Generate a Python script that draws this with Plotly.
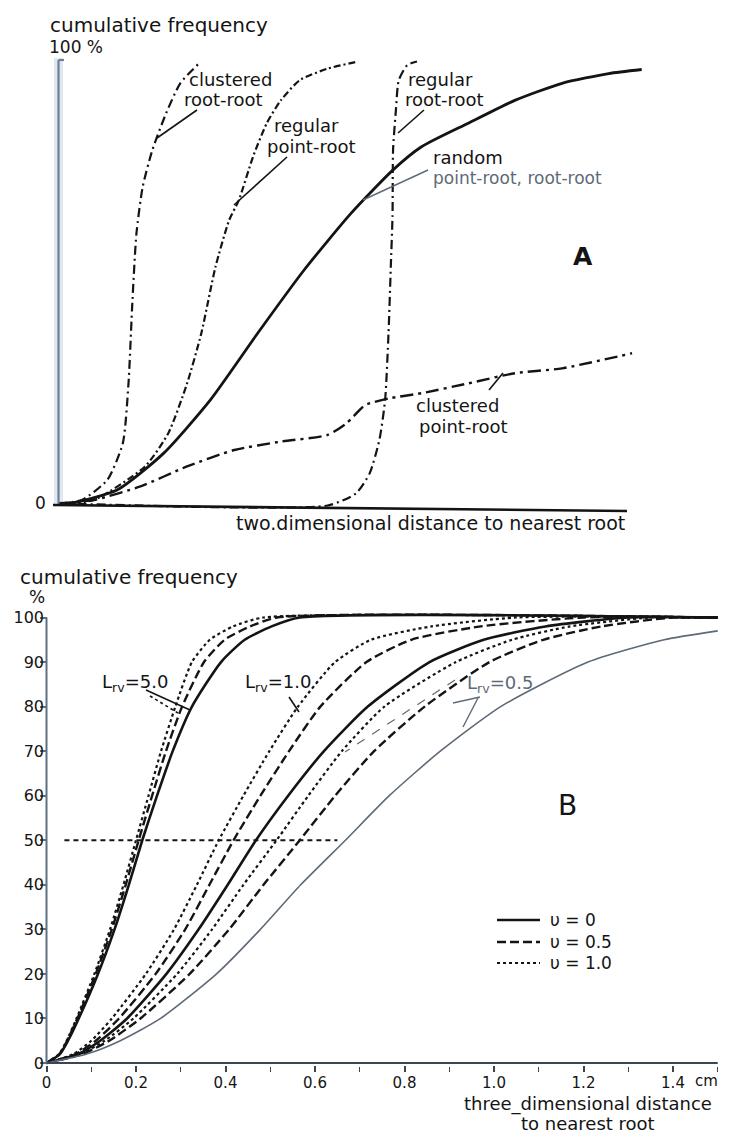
import plotly.graph_objects as go

W, H = 733, 1135
FONT = "DejaVu Sans"
INK = "#141414"
GREY = "#5d6a78"

# ---------------- Panel A data (relative distance 0..1, cumulative %) ----------------
a_random_x = [0.0, 0.02, 0.103, 0.185, 0.267, 0.35, 0.432, 0.514, 0.588, 0.638, 0.72, 0.803, 0.885, 0.967, 1.025]
a_random_y = [0, 0, 3, 11.3, 23.3, 38.3, 52.6, 65.3, 75.1, 80.3, 85.6, 90.8, 94.6, 96.8, 97.7]

a_clu_rr_x = [0.0, 0.041, 0.086, 0.113, 0.123, 0.130, 0.137, 0.148, 0.165, 0.189, 0.214, 0.247]
a_clu_rr_y = [0, 0.75, 5.3, 13.5, 27, 45.8, 60.8, 71.3, 79.6, 87.8, 94.6, 99.1]

a_reg_pr_x = [0.0, 0.062, 0.152, 0.193, 0.226, 0.251, 0.276, 0.30, 0.317, 0.342, 0.366, 0.391, 0.424, 0.473, 0.527]
a_reg_pr_y = [0, 0.75, 8.3, 15.8, 27, 38.3, 53.3, 63.8, 68.3, 78.1, 85.6, 90.8, 95.3, 97.9, 99.5]

a_reg_rr_x = [0.0, 0.473, 0.523, 0.547, 0.564, 0.574, 0.58, 0.584, 0.587, 0.588, 0.593, 0.598, 0.613, 0.63]
a_reg_rr_y = [0, -0.5, 2.25, 6.8, 14.3, 23.3, 38.3, 53.3, 64.6, 79.6, 88.6, 95.3, 98.7, 99.5]

a_clu_pr_x = [0.0, 0.062, 0.144, 0.226, 0.309, 0.391, 0.473, 0.506, 0.539, 0.58, 0.638, 0.72, 0.802, 0.885, 1.008]
a_clu_pr_y = [0, 0.75, 3.8, 8.3, 12.0, 13.9, 15.4, 18.0, 22.1, 23.6, 24.8, 27.0, 29.3, 30.4, 33.8]

# ---------------- Panel B data (distance in cm, cumulative %) ----------------
b_y = [0, 2, 5, 10, 20, 30, 40, 50, 60, 70, 80, 90, 95, 98, 100, 100]
b_L50_s00 = [0, 0.030, 0.048, 0.072, 0.115, 0.152, 0.184, 0.214, 0.247, 0.282, 0.325, 0.390, 0.443, 0.503, 0.566, 1.5]
b_L50_s05 = [0, 0.029, 0.046, 0.069, 0.110, 0.146, 0.177, 0.206, 0.236, 0.267, 0.303, 0.352, 0.398, 0.455, 0.515, 1.5]
b_L50_s10 = [0, 0.028, 0.045, 0.067, 0.107, 0.142, 0.172, 0.200, 0.228, 0.256, 0.288, 0.325, 0.365, 0.417, 0.485, 1.5]
b_L10_s10 = [0, 0.060, 0.100, 0.146, 0.222, 0.285, 0.336, 0.385, 0.440, 0.498, 0.562, 0.645, 0.725, 0.860, 1.050, 1.5]
b_L10_s05 = [0, 0.065, 0.110, 0.162, 0.244, 0.310, 0.364, 0.418, 0.478, 0.542, 0.612, 0.715, 0.815, 0.970, 1.200, 1.5]
b_L10_s00 = [0, 0.070, 0.120, 0.180, 0.268, 0.340, 0.405, 0.468, 0.540, 0.620, 0.718, 0.856, 0.977, 1.115, 1.300, 1.5]
b_L05_s10 = [0, 0.075, 0.130, 0.194, 0.292, 0.370, 0.440, 0.514, 0.585, 0.660, 0.755, 0.915, 1.040, 1.170, 1.350, 1.5]
b_L05_s05 = [0, 0.080, 0.140, 0.210, 0.320, 0.408, 0.485, 0.566, 0.645, 0.732, 0.845, 0.990, 1.110, 1.240, 1.400, 1.5]
b_L05_s00_x = [0, 0.090, 0.165, 0.255, 0.380, 0.478, 0.568, 0.668, 0.766, 0.880, 1.015, 1.210, 1.380, 1.5]
b_L05_s00_y = [0, 2, 5, 10, 20, 30, 40, 50, 60, 70, 80, 90, 95, 97]

b_ref50_x = [0.04, 0.65]
b_ref50_y = [50, 50]

b_xticks = [0, 0.2, 0.4, 0.6, 0.8, 1.0, 1.2, 1.4]
b_xticktext = ["0", "0.2", "0.4", "0.6", "0.8", "1.0", "1.2", "1.4"]
b_xminor = [0.1, 0.3, 0.5, 0.7, 0.9, 1.1, 1.3, 1.5]
b_yticks = [0, 10, 20, 30, 40, 50, 60, 70, 80, 90, 100]

# ---------------- layout geometry (pixels) ----------------
A_X0, A_XS, A_Y0, A_YS = 58.5, 569.0, 503.3, 4.44
A_DOM_X = (50, 660)
A_DOM_Y = (518, 42)   # bottom, top
B_X0, B_XS, B_Y0, B_YS = 46.5, 447.5, 1063.0, 4.455
B_DOM_X = (40, 726)
B_DOM_Y = (1072, 605)


def px(x):
    return x / W


def py(y):
    return 1 - y / H


fig = go.Figure()

DASHDOT1 = "9px,4px,2px,4px"
DASHDOT2 = "7px,3px,2px,3px"
DASHDOT3 = "13px,5px,3px,5px"
SM = 0.6

# Panel A traces
fig.add_trace(go.Scatter(x=a_random_x, y=a_random_y, mode="lines", xaxis="x", yaxis="y",
                         line=dict(color=INK, width=2.8, shape="spline", smoothing=SM), showlegend=False))
fig.add_trace(go.Scatter(x=a_clu_rr_x, y=a_clu_rr_y, mode="lines", xaxis="x", yaxis="y",
                         line=dict(color=INK, width=2.2, dash=DASHDOT1, shape="spline", smoothing=SM), showlegend=False))
fig.add_trace(go.Scatter(x=a_reg_pr_x, y=a_reg_pr_y, mode="lines", xaxis="x", yaxis="y",
                         line=dict(color=INK, width=2.2, dash=DASHDOT2, shape="spline", smoothing=SM), showlegend=False))
fig.add_trace(go.Scatter(x=a_reg_rr_x, y=a_reg_rr_y, mode="lines", xaxis="x", yaxis="y",
                         line=dict(color=INK, width=2.2, dash=DASHDOT1, shape="spline", smoothing=SM), showlegend=False))
fig.add_trace(go.Scatter(x=a_clu_pr_x, y=a_clu_pr_y, mode="lines", xaxis="x", yaxis="y",
                         line=dict(color=INK, width=2.4, dash=DASHDOT3, shape="spline", smoothing=SM), showlegend=False))

# Panel B traces
DASHED = "9px,4px"
DOTTED = "3px,3px"
b_series = [
    (b_L50_s00, "solid", 2.6), (b_L50_s05, DASHED, 2.4), (b_L50_s10, DOTTED, 2.2),
    (b_L10_s00, "solid", 2.6), (b_L10_s05, DASHED, 2.4), (b_L10_s10, DOTTED, 2.2),
    (b_L05_s05, DASHED, 2.4), (b_L05_s10, DOTTED, 2.2),
]
for xs, dash, wd in b_series:
    fig.add_trace(go.Scatter(x=xs, y=b_y, mode="lines", xaxis="x2", yaxis="y2",
                             line=dict(color=INK, width=wd, dash=dash, shape="spline", smoothing=SM),
                             showlegend=False))
fig.add_trace(go.Scatter(x=b_L05_s00_x, y=b_L05_s00_y, mode="lines", xaxis="x2", yaxis="y2",
                         line=dict(color=GREY, width=1.6, shape="spline", smoothing=SM), showlegend=False))
fig.add_trace(go.Scatter(x=b_ref50_x, y=b_ref50_y, mode="lines", xaxis="x2", yaxis="y2",
                         line=dict(color=INK, width=1.8, dash="5px,4px"), showlegend=False))


def rng(dom, x0, xs, inv=False):
    a, b = dom
    if inv:
        return [(x0 - a) / xs, (x0 - b) / xs]
    return [(a - x0) / xs, (b - x0) / xs]


hidden = dict(showgrid=False, zeroline=False, showticklabels=False, showline=False, ticks="")

fig.update_layout(
    width=W, height=H,
    margin=dict(l=0, r=0, t=0, b=0),
    paper_bgcolor="white", plot_bgcolor="rgba(0,0,0,0)",
    font=dict(family=FONT, color=INK),
    xaxis=dict(domain=[px(A_DOM_X[0]), px(A_DOM_X[1])], range=rng(A_DOM_X, A_X0, A_XS),
               anchor="y", **hidden),
    yaxis=dict(domain=[py(A_DOM_Y[0]), py(A_DOM_Y[1])], range=rng(A_DOM_Y, A_Y0, A_YS, inv=True),
               anchor="x", **hidden),
    xaxis2=dict(domain=[px(B_DOM_X[0]), px(B_DOM_X[1])], range=rng(B_DOM_X, B_X0, B_XS),
                anchor="y2", showgrid=False, zeroline=False, showline=False,
                ticks="inside", ticklen=6, tickwidth=1.5, tickcolor="#3c4650",
                tickvals=b_xticks, ticktext=b_xticktext, ticklabelstandoff=0,
                tickfont=dict(size=15, family=FONT, color=INK),
                minor=dict(tickvals=b_xminor, ticks="inside", ticklen=5, tickwidth=1.2,
                           tickcolor="#3c4650", showgrid=False)),
    yaxis2=dict(domain=[py(B_DOM_Y[0]), py(B_DOM_Y[1])], range=rng(B_DOM_Y, B_Y0, B_YS, inv=True),
                anchor="x2", showgrid=False, zeroline=False, showline=False,
                ticks="inside", ticklen=7, tickwidth=1.5, tickcolor="#5f7080",
                tickvals=b_yticks, ticklabelstandoff=-5,
                tickfont=dict(size=16, family=FONT, color=INK)),
)

shapes = []


def seg(x0, y0, x1, y1, color=INK, width=1.6, dash="solid"):
    shapes.append(dict(type="line", xref="paper", yref="paper",
                       x0=px(x0), y0=py(y0), x1=px(x1), y1=py(y1),
                       line=dict(color=color, width=width, dash=dash)))


# Panel A axes (drawn)
shapes.append(dict(type="rect", xref="paper", yref="paper", x0=px(54), x1=px(63), y0=py(505), y1=py(58),
                   fillcolor="#dfe8f2", line=dict(width=0), layer="below"))
seg(58.5, 505, 58.5, 60, color="#6f8091", width=2.2)
seg(58.5, 60, 64, 60, color="#6f8091", width=2.2)
seg(53, 505, 627, 511, color=INK, width=2.6)

# Panel B axes (drawn in data coordinates)
shapes.append(dict(type="line", xref="x2", yref="y2", x0=0, y0=0, x1=1.5, y1=0,
                   line=dict(color="#3c4650", width=2)))
shapes.append(dict(type="line", xref="x2", yref="y2", x0=0, y0=0, x1=0, y1=100,
                   line=dict(color="#5f7080", width=2)))

# Panel A leader lines
seg(197, 110, 157, 138)
seg(287, 157, 234, 205)
seg(424, 110, 398, 133)
seg(428, 170, 363, 200, color=GREY, width=1.4)
seg(503, 373, 489, 390)

# Panel B leader lines
seg(146, 690, 190, 710)
seg(150, 696, 178, 713, dash="dot")
seg(289, 697, 299, 712)
seg(480, 697, 453, 703, color=GREY, width=1.4)
seg(478, 698, 463, 727, color=GREY, width=1.4)
seg(455, 680, 345, 752, color=GREY, width=1.2, dash="dash")

# Panel B legend lines
seg(497, 920, 540, 920, width=2.6)
seg(497, 942, 540, 942, width=2.4, dash=DASHED)
seg(497, 963, 540, 963, width=2.2, dash=DOTTED)

annotations = []


def ann(text, x, y, size=20, xanchor="left", color=INK, bold=False):
    annotations.append(dict(text=("<b>%s</b>" % text) if bold else text,
                            x=px(x), y=py(y), xref="paper", yref="paper",
                            xanchor=xanchor, yanchor="middle", showarrow=False,
                            font=dict(size=size, family=FONT, color=color)))


# Panel A text
ann("cumulative frequency", 48, 25)
ann("100 %", 47, 47, size=17)
ann("0", 40, 503, size=17, xanchor="center")
ann("clustered", 187, 79, size=18)
ann("root-root", 182, 99, size=18)
ann("regular", 272, 126, size=18)
ann("point-root", 265, 147, size=18)
ann("regular", 406, 79, size=18)
ann("root-root", 403, 99, size=18)
ann("random", 431, 157, size=18)
ann("point-root, root-root", 431, 178, size=17, color=GREY)
ann("A", 583, 257, size=25, xanchor="center", bold=True)
ann("clustered", 414, 405, size=18)
ann("point-root", 417, 426, size=18)
ann("two.dimensional distance to nearest root", 627, 523, size=19, xanchor="right")

# Panel B text
ann("cumulative frequency", 18, 577)
ann("%", 27, 597, size=17)
ann("B", 567, 805, size=28, xanchor="center")
ann("L<sub>rv</sub>=5.0", 100, 683, size=18)
ann("L<sub>rv</sub>=1.0", 243, 683, size=18)
ann("L<sub>rv</sub>=0.5", 465, 684, size=18, color=GREY)
ann("υ = 0", 548, 920, size=17)
ann("υ = 0.5", 548, 942, size=17)
ann("υ = 1.0", 548, 963, size=17)
ann("cm", 693, 1081, size=15)
ann("three_dimensional distance", 588, 1104, size=18, xanchor="center")
ann("to nearest root", 588, 1123, size=18, xanchor="center")

fig.update_layout(shapes=shapes, annotations=annotations)
fig.write_html("out.html", config={"displayModeBar": False},
               post_script="document.body.style.margin='0px';")
